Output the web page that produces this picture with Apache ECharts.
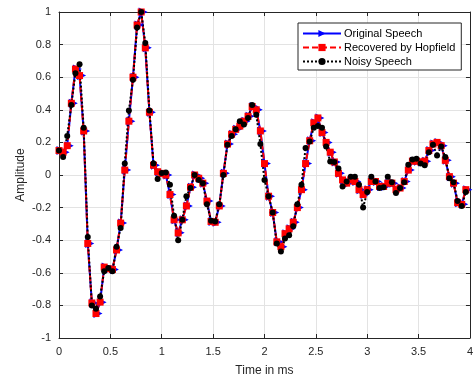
<!DOCTYPE html>
<html>
<head>
<meta charset="utf-8">
<script src="https://cdn.jsdelivr.net/npm/echarts@6/dist/echarts.min.js"></script>
<style>
html,body{margin:0;padding:0;background:#fff;}
#chart{width:476px;height:383px;}
</style>
</head>
<body>
<div id="chart"></div>
<script>
// time samples in ms (step 0.04)
var time = [];
for (var k = 0; k < 100; k++) { time.push(+(k * 0.04).toFixed(2)); }

var original = [0.15,0.14,0.18,0.44,0.65,0.61,0.27,-0.42,-0.785,-0.85,
  -0.78,-0.565,-0.575,-0.58,-0.46,-0.295,0.03,0.33,0.60,0.92,
  1.0,0.78,0.385,0.06,0.02,0.01,0.0,-0.12,-0.275,-0.355,
  -0.275,-0.19,-0.075,0.0,-0.02,-0.05,-0.16,-0.285,-0.29,-0.19,
  0.01,0.19,0.25,0.28,0.30,0.33,0.36,0.42,0.40,0.27,
  0.07,-0.13,-0.23,-0.41,-0.44,-0.36,-0.33,-0.29,-0.20,-0.09,
  0.07,0.21,0.32,0.35,0.26,0.20,0.14,0.08,0.01,-0.03,
  -0.05,-0.03,-0.04,-0.09,-0.12,-0.09,-0.04,-0.04,-0.07,-0.07,
  -0.05,-0.05,-0.09,-0.08,-0.04,0.03,0.085,0.085,0.08,0.085,
  0.15,0.19,0.20,0.18,0.09,-0.01,-0.05,-0.17,-0.18,-0.09];

var recovered = [0.15,0.14,0.18,0.44,0.65,0.61,0.27,-0.42,-0.785,-0.85,
  -0.78,-0.565,-0.575,-0.58,-0.46,-0.295,0.03,0.33,0.60,0.92,
  1.0,0.78,0.385,0.06,0.02,0.01,0.0,-0.12,-0.275,-0.355,
  -0.275,-0.19,-0.075,0.0,-0.02,-0.05,-0.16,-0.285,-0.29,-0.19,
  0.01,0.19,0.25,0.28,0.30,0.33,0.36,0.42,0.40,0.27,
  0.07,-0.13,-0.23,-0.41,-0.44,-0.36,-0.33,-0.29,-0.20,-0.09,
  0.07,0.21,0.32,0.35,0.26,0.20,0.14,0.08,0.01,-0.03,
  -0.05,-0.03,-0.04,-0.09,-0.12,-0.09,-0.04,-0.04,-0.07,-0.07,
  -0.05,-0.05,-0.09,-0.08,-0.04,0.03,0.085,0.085,0.08,0.085,
  0.15,0.19,0.20,0.18,0.09,-0.01,-0.05,-0.17,-0.18,-0.09];

var noisy = [0.15,0.11,0.24,0.43,0.625,0.68,0.29,-0.38,-0.80,-0.82,
  -0.745,-0.59,-0.57,-0.59,-0.44,-0.325,0.07,0.395,0.585,0.905,
  1.0,0.81,0.395,0.07,-0.025,0.012,0.015,-0.06,-0.25,-0.40,
  -0.275,-0.13,-0.08,0.0,-0.03,-0.05,-0.18,-0.28,-0.285,-0.18,
  0.0,0.185,0.24,0.28,0.33,0.31,0.35,0.43,0.37,0.19,
  -0.03,-0.13,-0.23,-0.42,-0.47,-0.39,-0.37,-0.315,-0.18,-0.06,
  0.165,0.205,0.29,0.30,0.29,0.175,0.083,0.08,0.04,-0.07,
  -0.04,-0.01,-0.01,-0.06,-0.20,-0.105,-0.01,-0.04,-0.08,-0.075,
  -0.01,-0.045,-0.11,-0.08,-0.045,0.063,0.095,0.10,0.07,0.06,
  0.14,0.185,0.12,0.175,0.11,-0.02,-0.045,-0.16,-0.19,-0.105];

var seriesNames = ['Original Speech', 'Recovered by Hopfield', 'Noisy Speech'];
var xTitle = 'Time in ms';
var yTitle = 'Amplitude';

function pairs(vals) {
  return vals.map(function (v, i) { return [time[i], v]; });
}

var axisColor = '#262626';
var font = 'Liberation Sans, Arial, Helvetica, sans-serif';
var rightTriangle = 'path://M0,0 L10,5 L0,10 Z';

var chart = echarts.init(document.getElementById('chart'), null, {renderer: 'canvas'});
chart.setOption({
  animation: false,
  backgroundColor: '#fff',
  grid: {left: 59, right: 4, top: 12, bottom: 45, containLabel: false},
  legend: {
    orient: 'vertical',
    left: 298, top: 23,
    width: 165,
    padding: [4, 6, 2, 4],
    itemGap: 1,
    itemWidth: 38,
    itemHeight: 9,
    backgroundColor: '#fff',
    borderColor: axisColor,
    borderWidth: 1,
    borderRadius: 0,
    textStyle: {fontFamily: font, fontSize: 11, color: '#000', lineHeight: 13, padding: [0, 0, 0, -2]},
    data: seriesNames
  },
  xAxis: [{
    type: 'value', min: 0, max: 4, interval: 0.5,
    name: xTitle, nameLocation: 'middle', nameGap: 27, nameMoveOverlap: false,
    nameTextStyle: {fontFamily: font, fontSize: 12, color: axisColor},
    axisLine: {show: true, onZero: false, lineStyle: {color: axisColor, width: 1}},
    axisTick: {show: true, inside: true, length: 4, lineStyle: {color: axisColor}},
    axisLabel: {fontFamily: font, fontSize: 11, color: axisColor, margin: 8},
    splitLine: {show: true, lineStyle: {color: '#e3e3e3', width: 1}}
  }, {
    type: 'value', min: 0, max: 4, interval: 0.5, position: 'top',
    axisLine: {show: true, onZero: false, lineStyle: {color: axisColor, width: 1}},
    axisTick: {show: true, inside: true, length: 4, lineStyle: {color: axisColor}},
    axisLabel: {show: false},
    splitLine: {show: false}
  }],
  yAxis: [{
    type: 'value', min: -1, max: 1, interval: 0.2,
    name: yTitle, nameLocation: 'middle', nameGap: 32, nameMoveOverlap: false,
    nameTextStyle: {fontFamily: font, fontSize: 12, color: axisColor},
    axisLine: {show: true, onZero: false, lineStyle: {color: axisColor, width: 1}},
    axisTick: {show: true, inside: true, length: 4, lineStyle: {color: axisColor}},
    axisLabel: {fontFamily: font, fontSize: 11, color: axisColor, margin: 8,
      formatter: function (v) { return String(Math.round(v * 10) / 10); }},
    splitLine: {show: true, lineStyle: {color: '#e3e3e3', width: 1}}
  }, {
    type: 'value', min: -1, max: 1, interval: 0.2, position: 'right',
    axisLine: {show: true, onZero: false, lineStyle: {color: axisColor, width: 1}},
    axisTick: {show: true, inside: true, length: 4, lineStyle: {color: axisColor}},
    axisLabel: {show: false},
    splitLine: {show: false}
  }],
  series: [{
    name: seriesNames[0], type: 'line', data: pairs(original),
    symbol: rightTriangle, symbolSize: [9, 9], symbolOffset: [2, 0], showAllSymbol: true,
    lineStyle: {color: '#0000ff', width: 2},
    itemStyle: {color: '#0000ff', borderWidth: 0}
  }, {
    name: seriesNames[1], type: 'line', data: pairs(recovered),
    symbol: 'rect', symbolSize: 7, showAllSymbol: true,
    lineStyle: {color: '#ff0000', width: 2, type: [6, 3]},
    itemStyle: {color: '#ff0000', borderWidth: 0}
  }, {
    name: seriesNames[2], type: 'line', data: pairs(noisy),
    symbol: 'circle', symbolSize: 6, showAllSymbol: true,
    lineStyle: {color: '#000000', width: 2, type: [2, 2]},
    itemStyle: {color: '#000000', borderWidth: 0}
  }]
});
</script>
</body>
</html>
